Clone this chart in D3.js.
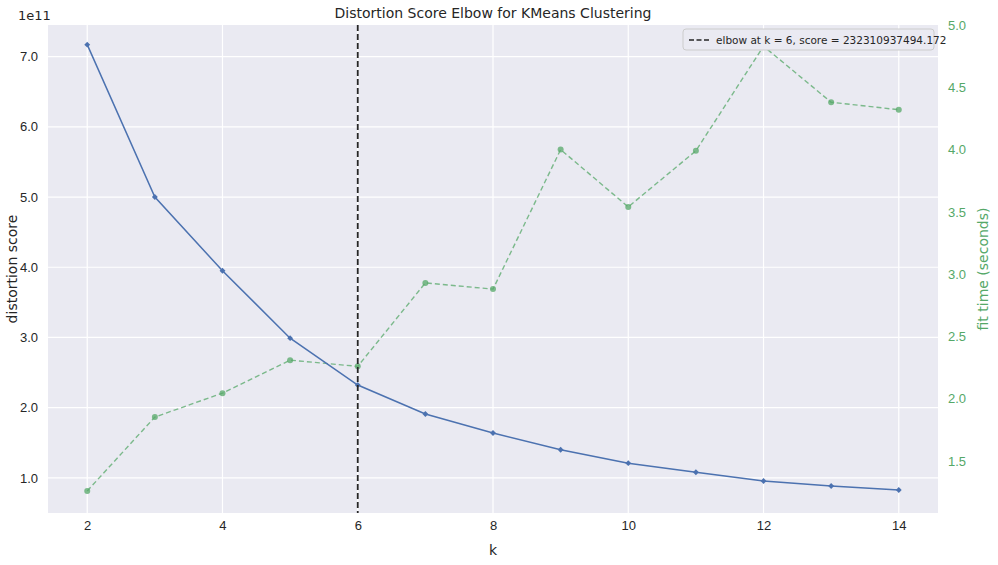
<!DOCTYPE html>
<html><head><meta charset="utf-8">
<script src="https://cdn.jsdelivr.net/npm/d3@7"></script>
<style>body{margin:0;background:#fff;font-family:"DejaVu Sans",sans-serif}</style>
</head><body><svg id="c" width="998" height="565"></svg>
<script>
const ks=[2,3,4,5,6,7,8,9,10,11,12,13,14];
const scores=[7.17,5.0,3.95,2.99,2.323,1.91,1.64,1.40,1.21,1.08,0.955,0.884,0.827];
const fitTimes=[1.26,1.853,2.045,2.31,2.26,2.93,2.88,4.0,3.54,3.99,4.83,4.38,4.32];
const xTicks=[2,4,6,8,10,12,14];
const yTicks=[1,2,3,4,5,6,7];
const y2Ticks=[1.5,2.0,2.5,3.0,3.5,4.0,4.5,5.0];
const elbowK=6;
const legendLabel="elbow at k = 6, score = 232310937494.172";

const svg=d3.select("#c");
const L=48,R=938,T=25,B=513;
const x=d3.scaleLinear().domain([1.42,14.58]).range([L,R]);
const y=d3.scaleLinear().domain([0.5,7.45]).range([B,T]);
const y2=d3.scaleLinear().domain([1.083,5.0]).range([B,T]);
svg.append("rect").attr("x",L).attr("y",T).attr("width",R-L).attr("height",B-T).attr("fill","#eaeaf2");
const g=svg.append("g");
xTicks.forEach(t=>g.append("line").attr("x1",x(t)).attr("x2",x(t)).attr("y1",T).attr("y2",B).attr("stroke","#fff").attr("stroke-width",1.2));
yTicks.forEach(t=>g.append("line").attr("x1",L).attr("x2",R).attr("y1",y(t)).attr("y2",y(t)).attr("stroke","#fff").attr("stroke-width",1.2));
const ax=d3.axisBottom(x).tickValues(xTicks).tickSize(0).tickPadding(8);
svg.append("g").attr("transform",`translate(0,${B})`).call(ax).call(s=>s.select(".domain").remove()).selectAll("text").attr("font-size",13).attr("fill","#262626");
svg.append("g").attr("transform",`translate(${L},0)`).call(d3.axisLeft(y).tickValues(yTicks).tickSize(0).tickPadding(10)).call(s=>s.select(".domain").remove()).selectAll("text").attr("font-size",13).attr("fill","#262626");
svg.append("g").attr("transform",`translate(${R},0)`).call(d3.axisRight(y2).tickValues(y2Ticks).tickFormat(d3.format(".1f")).tickSize(0).tickPadding(10)).call(s=>s.select(".domain").remove()).selectAll("text").attr("font-size",13).attr("fill","#55a868");
svg.append("text").attr("x",18).attr("y",20).attr("font-size",13).attr("fill","#262626").text("1e11");
svg.append("text").attr("x",(L+R)/2).attr("y",18).attr("text-anchor","middle").attr("font-size",14).attr("fill","#262626").text("Distortion Score Elbow for KMeans Clustering");
svg.append("text").attr("x",(L+R)/2).attr("y",555).attr("text-anchor","middle").attr("font-size",14).attr("fill","#262626").text("k");
svg.append("text").attr("transform",`translate(17,${(T+B)/2}) rotate(-90)`).attr("text-anchor","middle").attr("font-size",14).attr("fill","#262626").text("distortion score");
svg.append("text").attr("transform",`translate(988,${(T+B)/2}) rotate(-90)`).attr("text-anchor","middle").attr("font-size",14).attr("fill","#55a868").text("fit time (seconds)");
// fit time
svg.append("path").datum(ks.map((k,i)=>[k,fitTimes[i]])).attr("d",d3.line().x(d=>x(d[0])).y(d=>y2(d[1]))).attr("fill","none").attr("stroke","#55a868").attr("stroke-width",1.4).attr("stroke-dasharray","5,3").attr("opacity",0.75);
svg.selectAll(".gp").data(ks).join("circle").attr("cx",d=>x(d)).attr("cy",(d,i)=>y2(fitTimes[i])).attr("r",3).attr("fill","#55a868").attr("opacity",0.75);
// distortion
svg.append("path").datum(ks.map((k,i)=>[k,scores[i]])).attr("d",d3.line().x(d=>x(d[0])).y(d=>y(d[1]))).attr("fill","none").attr("stroke","#4c72b0").attr("stroke-width",1.5);
svg.selectAll(".bp").data(ks).join("path").attr("d",d3.symbol(d3.symbolDiamond2,22)).attr("transform",(d,i)=>`translate(${x(d)},${y(scores[i])})`).attr("fill","#4c72b0");
// elbow
svg.append("line").attr("x1",x(elbowK)).attr("x2",x(elbowK)).attr("y1",T).attr("y2",B).attr("stroke","#262626").attr("stroke-width",1.8).attr("stroke-dasharray","6,3");
// legend
svg.append("rect").attr("x",683).attr("y",29).attr("width",251).attr("height",21).attr("rx",3).attr("fill","#eaeaf2").attr("stroke","#cccccc");
svg.append("line").attr("x1",689).attr("x2",709).attr("y1",40).attr("y2",40).attr("stroke","#262626").attr("stroke-width",1.6).attr("stroke-dasharray","5,2.5");
svg.append("text").attr("x",716).attr("y",44).attr("font-size",10.5).attr("fill","#262626").text(legendLabel);
</script></body></html>
